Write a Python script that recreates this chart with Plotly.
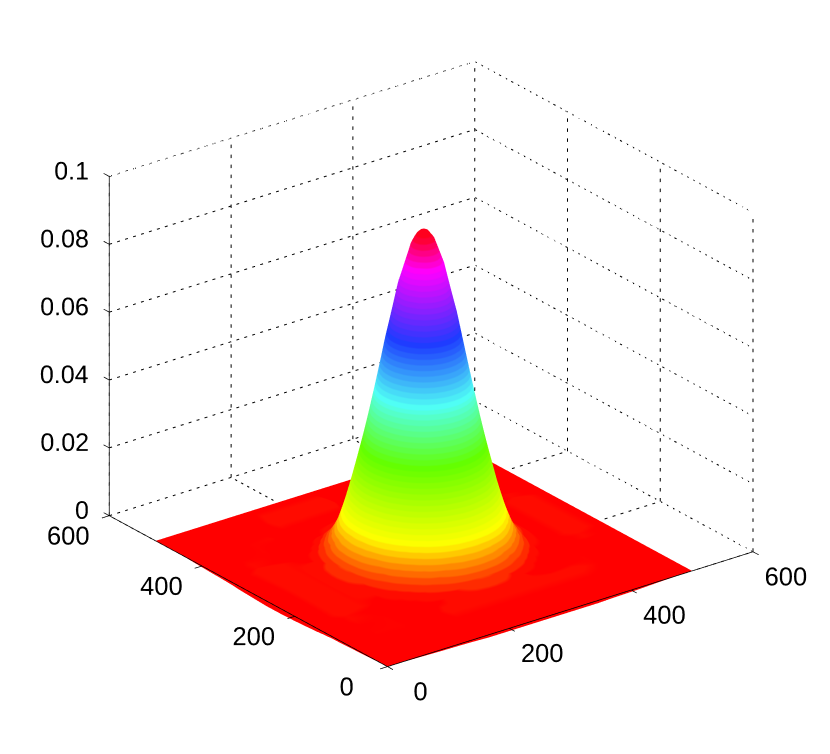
import numpy as np
import plotly.graph_objects as go

# surface heights, in units of 1e-4
x_nodes = [0, 50, 90, 120, 140, 154, 166, 178, 190, 202, 214, 226, 238, 244, 250, 256,
           262, 274, 286, 298, 310, 322, 334, 346, 360, 380, 410, 450, 500]
y_nodes = list(x_nodes)
z_rows = [
    [0, -2, -4, -5, -6, -7, -8, -8, -8, -8, -8, -8, -8, -8, -8, -8, -8, -8, -8, -8, -8, -8, -8, -8, -7, -6, -5, -2, 0],
    [-3, 0, 2, 0, 0, 0, 0, 0, 0, 0, 0, 0, 0, 0, 0, 0, 0, 0, 0, 0, 0, 0, 0, 0, 0, 0, 0, 0, 0],
    [-5, 4, 4, 2, 2, 2, 10, 10, 10, 10, 10, 10, 10, 10, 10, 10, 10, 10, 10, 10, 10, 10, 10, 10, 10, 10, 4, 0, 0],
    [-6, 3, 4, 0, -2, -3, 0, 3, 10, 17, 24, 32, 36, 38, 38, 38, 36, 32, 24, 17, 10, 3, 0, -3, -2, 0, 4, 0, 0],
    [-8, 6, 3, -2, -1, 6, 18, 33, 46, 66, 86, 103, 110, 114, 115, 114, 110, 103, 86, 66, 46, 33, 18, 6, -1, -2, 1, 0, 0],
    [-10, 6, 2, -3, 6, 22, 42, 66, 100, 135, 165, 190, 208, 214, 215, 214, 208, 190, 165, 135, 100, 66, 42, 22, 6, -3, -1, 0, 0],
    [-11, 12, 6, 0, 18, 42, 70, 110, 160, 208, 256, 287, 308, 313, 315, 313, 308, 287, 256, 208, 160, 110, 70, 42, 18, 0, -2, 6, 0],
    [-12, 12, 6, 3, 33, 66, 110, 172, 235, 294, 345, 387, 414, 422, 424, 422, 414, 387, 345, 294, 235, 172, 110, 66, 33, 3, -2, 6, 0],
    [-13, 12, 6, 10, 46, 100, 160, 235, 308, 378, 444, 497, 533, 542, 545, 542, 533, 497, 444, 378, 308, 235, 160, 100, 46, 10, -2, 12, 0],
    [-14, 12, 6, 17, 66, 135, 208, 294, 378, 464, 545, 611, 654, 665, 669, 665, 654, 611, 545, 464, 378, 294, 208, 135, 66, 17, -3, 12, 0],
    [-14, 12, 6, 24, 86, 165, 256, 345, 444, 545, 640, 717, 768, 782, 786, 782, 768, 717, 640, 545, 444, 345, 256, 165, 86, 24, -3, 12, 0],
    [-15, 12, 6, 32, 103, 190, 287, 387, 497, 611, 717, 804, 861, 876, 881, 876, 861, 804, 717, 611, 497, 387, 287, 190, 103, 32, -3, 12, 0],
    [-15, 12, 6, 36, 110, 208, 308, 414, 533, 654, 768, 861, 922, 938, 943, 938, 922, 861, 768, 654, 533, 414, 308, 208, 110, 36, -3, 12, 0],
    [-15, 12, 6, 38, 114, 214, 313, 422, 542, 665, 782, 876, 938, 954, 959, 954, 938, 876, 782, 665, 542, 422, 313, 214, 114, 38, -3, 12, 0],
    [-15, 12, 6, 38, 115, 215, 315, 424, 545, 669, 786, 881, 943, 959, 965, 959, 943, 881, 786, 669, 545, 424, 315, 215, 115, 38, -3, 12, 0],
    [-15, 12, 6, 38, 114, 214, 313, 422, 542, 665, 782, 876, 938, 954, 959, 954, 938, 876, 782, 665, 542, 422, 313, 214, 114, 38, -3, 12, 0],
    [-15, 12, 6, 36, 110, 208, 308, 414, 533, 654, 768, 861, 922, 938, 943, 938, 922, 861, 768, 654, 533, 414, 308, 208, 110, 36, -3, 12, 0],
    [-14, 12, 6, 32, 103, 190, 287, 387, 497, 611, 717, 804, 861, 876, 881, 876, 861, 804, 717, 611, 497, 387, 287, 190, 103, 32, -3, 12, 0],
    [-13, 12, 6, 24, 86, 165, 256, 345, 444, 545, 640, 717, 768, 782, 786, 782, 768, 717, 640, 545, 444, 345, 256, 165, 86, 24, -3, 12, 0],
    [-12, 12, 6, 17, 66, 135, 208, 294, 378, 464, 545, 611, 654, 665, 669, 665, 654, 611, 545, 464, 378, 294, 208, 135, 66, 17, -3, 12, 0],
    [-11, 12, 6, 10, 46, 100, 160, 235, 308, 378, 444, 497, 533, 542, 545, 542, 533, 497, 444, 378, 308, 235, 160, 100, 46, 10, -2, 12, 0],
    [-10, 12, 6, 3, 33, 66, 110, 172, 235, 294, 345, 387, 414, 422, 424, 422, 414, 387, 345, 294, 235, 172, 110, 66, 33, 3, -2, 6, 0],
    [-8, 12, 6, 0, 18, 42, 70, 110, 160, 208, 256, 287, 308, 313, 315, 313, 308, 287, 256, 208, 160, 110, 70, 42, 18, 0, -2, 6, 0],
    [-7, 6, 2, -3, 6, 22, 42, 66, 100, 135, 165, 190, 208, 214, 215, 214, 208, 190, 165, 135, 100, 66, 42, 22, 6, -3, -1, 0, 0],
    [-6, 6, 3, -2, -1, 6, 18, 33, 46, 66, 86, 103, 110, 114, 115, 114, 110, 103, 86, 66, 46, 33, 18, 6, -1, -2, 1, 0, 0],
    [-5, 3, 4, 0, -2, -3, 0, 3, 10, 17, 24, 32, 36, 38, 38, 38, 36, 32, 24, 17, 10, 3, 0, -3, -2, 0, 4, 0, 0],
    [-3, 0, 4, 5, 1, -1, -2, -2, -2, -3, -3, -3, -3, -3, -3, -3, -3, -3, -3, -3, -2, -2, -2, -1, 1, 5, 4, 0, 0],
    [0, 0, 0, 0, 0, 12, 12, 12, 12, 12, 12, 12, 12, 12, 12, 6, 0, 0, 0, 0, 0, 0, 0, 0, 0, 0, 0, 0, 0],
    [0, 0, 0, 0, 0, 0, 0, 0, 0, 0, 0, 0, 0, 0, 0, 0, 0, 0, 0, 0, 0, 0, 0, 0, 0, 0, 0, 0, 0],
]

x_ticks = [0, 200, 400, 600]
y_ticks = [0, 200, 400, 600]
z_ticks = [0, 0.02, 0.04, 0.06, 0.08, 0.1]
z_tick_labels = ["0", "0.02", "0.04", "0.06", "0.08", "0.1"]

# colormap keys as seen on the surface
cmap_heights = [0.0, 0.0125, 0.033, 0.050, 0.067, 0.087, 0.096]
cmap_colors = [(255, 0, 0), (255, 255, 0), (100, 255, 0), (80, 255, 245), (30, 60, 255), (255, 0, 255), (255, 0, 30)]

Z_MIN = -0.001
Z_MAX = 0.0965
N_LEVELS = 64
TICK_LEN = 12
Z_FLOOR = -0.002
VIEW_ZOOM = 1.245
X_RANGE = [-44, 600]
Y_RANGE = [-47, 624]
TICK_FONT = dict(family="Liberation Sans", size=17.5, color="#000000")
Z_LABEL_FONT = dict(family="Liberation Sans", size=25, color="#000000")


def stepped_colorscale():
    scale = []
    reds, greens, blues = zip(*cmap_colors)
    for i in range(N_LEVELS):
        h = Z_MIN + (Z_MAX - Z_MIN) * i / (N_LEVELS - 1)
        r = np.interp(h, cmap_heights, reds)
        g = np.interp(h, cmap_heights, greens)
        b = np.interp(h, cmap_heights, blues)
        color = f"rgb({r:.0f},{g:.0f},{b:.0f})"
        scale.append([i / N_LEVELS, color])
        scale.append([(i + 1) / N_LEVELS, color])
    return scale


class Segments:
    def __init__(self):
        self.x, self.y, self.z = [], [], []

    def add(self, p0, p1):
        self.x.extend([p0[0], p1[0], None])
        self.y.extend([p0[1], p1[1], None])
        self.z.extend([p0[2], p1[2], None])

    def add_dotted(self, p0, p1, n, duty=0.35):
        p0, p1 = np.array(p0, float), np.array(p1, float)
        step = (p1 - p0) / n
        for k in range(n):
            start = p0 + step * k
            # floor dots under the surface would show through where it dips below 0
            on_floor = p0[2] == 0 and p1[2] == 0
            if on_floor and start[0] <= x_nodes[-1] and start[1] <= y_nodes[-1]:
                continue
            self.add(start, start + step * duty)


def grid_segments():
    seg = Segments()
    x_end, y_end = x_ticks[-1], y_ticks[-1]
    z_top = z_ticks[-1]
    for x in x_ticks:
        seg.add_dotted((x, 0, 0), (x, y_end, 0), 46)
        seg.add_dotted((x, y_end, 0), (x, y_end, z_top), 34)
    for y in y_ticks:
        seg.add_dotted((0, y, 0), (x_end, y, 0), 46)
        seg.add_dotted((x_end, y, 0), (x_end, y, z_top), 34)
    for z in z_ticks[1:]:
        seg.add_dotted((0, y_end, z), (x_end, y_end, z), 46)
        seg.add_dotted((x_end, y_end, z), (x_end, 0, z), 46)
    return seg


def axis_segments():
    seg = Segments()
    seg.add((0, 0, 0), (x_ticks[-1], 0, 0))
    seg.add((0, 0, 0), (0, y_ticks[-1], 0))
    seg.add((0, y_ticks[-1], 0), (0, y_ticks[-1], z_ticks[-1]))
    for x in x_ticks:
        seg.add((x, 0, 0), (x, -TICK_LEN, 0))
    for y in y_ticks:
        seg.add((0, y, 0), (-TICK_LEN, y, 0))
    for z in z_ticks:
        seg.add((0, y_ticks[-1], z), (0, y_ticks[-1] + TICK_LEN, z))
    return seg


z_values = np.array(z_rows) * 1e-4

fig = go.Figure()
grid = grid_segments()
fig.add_trace(
    go.Scatter3d(
        x=grid.x,
        y=grid.y,
        z=grid.z,
        mode="lines",
        line=dict(color="#000000", width=2),
        hoverinfo="skip",
        showlegend=False,
    )
)
fig.add_trace(
    go.Surface(
        x=x_nodes,
        y=y_nodes,
        z=z_values,
        cmin=Z_MIN,
        cmax=Z_MAX,
        colorscale=stepped_colorscale(),
        showscale=False,
        lighting=dict(ambient=1, diffuse=0, specular=0, roughness=1, fresnel=0),
        hoverinfo="skip",
    )
)
axes = axis_segments()
fig.add_trace(
    go.Scatter3d(
        x=axes.x,
        y=axes.y,
        z=axes.z,
        mode="lines",
        line=dict(color="#000000", width=1.5),
        hoverinfo="skip",
        showlegend=False,
    )
)
# z labels as text marks, so they can sit right aligned beside the axis
fig.add_trace(
    go.Scatter3d(
        x=[15] * len(z_ticks),
        y=[y_ticks[-1] + TICK_LEN] * len(z_ticks),
        z=z_ticks,
        mode="text",
        text=z_tick_labels,
        textposition="middle left",
        textfont=Z_LABEL_FONT,
        hoverinfo="skip",
        showlegend=False,
    )
)

axis_style = dict(
    showgrid=False,
    showbackground=False,
    zeroline=False,
    showline=False,
    ticks="",
    tickangle=0,
    tickfont=TICK_FONT,
    title=dict(text=""),
    showspikes=False,
)

fig.update_layout(
    width=814,
    height=738,
    margin=dict(l=0, r=0, t=0, b=0),
    paper_bgcolor="#ffffff",
    scene=dict(
        domain=dict(x=[0, 1], y=[0, 1]),
        aspectmode="manual",
        aspectratio=dict(
            x=(X_RANGE[1] - X_RANGE[0]) / 600 * VIEW_ZOOM,
            y=(Y_RANGE[1] - Y_RANGE[0]) / 600 * VIEW_ZOOM,
            z=0.827 * VIEW_ZOOM,
        ),
        camera=dict(
            projection=dict(type="orthographic"),
            eye=dict(x=-1.1148, y=-1.4286, z=0.8139),
            center=dict(x=-0.0188, y=0.0114, z=-0.0061),
            up=dict(x=0, y=0, z=1),
        ),
        xaxis=dict(axis_style, range=X_RANGE, tickvals=x_ticks),
        yaxis=dict(axis_style, range=Y_RANGE, tickvals=y_ticks),
        zaxis=dict(axis_style, range=[Z_FLOOR, 0.1], tickvals=z_ticks, showticklabels=False),
    ),
)

fig.write_html("out.html")
